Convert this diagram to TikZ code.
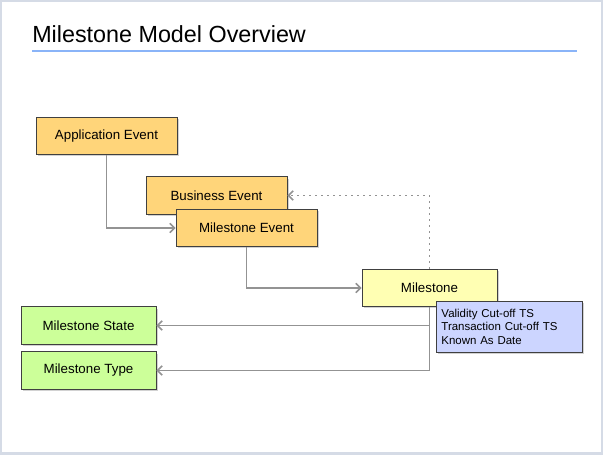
\documentclass[tikz,border=0pt]{standalone}
\usepackage{fontspec}
\setmainfont{Liberation Sans}
\usetikzlibrary{arrows.meta,shadows}

\definecolor{framegray}{HTML}{D5DBE6}
\definecolor{titleblue}{HTML}{8AB4F8}
\definecolor{eventorange}{HTML}{FFD57A}
\definecolor{msyellow}{HTML}{FFFFB3}
\definecolor{refgreen}{HTML}{CCFF99}
\definecolor{attrblue}{HTML}{CCD5FF}
\definecolor{linegray}{HTML}{939393}

\tikzset{
  entity/.style={draw=black!75, line width=0.7pt, minimum height=28pt,
    font=\fontsize{10}{12}\selectfont,
    drop shadow={shadow xshift=1.3pt, shadow yshift=-1.3pt, opacity=0.35}},
  event/.style={entity, fill=eventorange, minimum width=105.75pt},
  ref/.style={entity, fill=refgreen, minimum width=101.25pt},
  conn/.style={draw=linegray, line width=1.2pt, -{Straight Barb[length=3.5pt,width=7pt]}},
}

\begin{document}
\begin{tikzpicture}[x=0.75pt,y=-0.75pt]
  \useasboundingbox (0,0) rectangle (603,455);
  \fill[framegray] (0,0) rectangle (603,455);
  \fill[white] (2,2) rectangle (601,452);

  % title
  \node[anchor=base west, inner sep=0pt, font=\fontsize{17.5}{20}\selectfont] (title) at (32,42) {Milestone Model Overview};
  \draw[titleblue, line width=1.6pt] (32,51) -- (577,51);

  % events
  \node[event] (appevent) at (106.5,136) {Application Event};
  \node[event] (bizevent) at (216.5,195.5) {Business Event};
  \node[event] (msevent) at (246.5,228) {Milestone Event};

  % milestone
  \node[entity, fill=msyellow, minimum width=101.25pt] (milestone) at (429.5,288) {Milestone};
  \node[entity, fill=attrblue, anchor=north west, text width=102pt, minimum height=38pt,
    align=left, inner sep=3.75pt, font=\fontsize{8.6}{10}\selectfont] (attrs) at (436,301)
    {Validity Cut-off TS\\Transaction Cut-off TS\\Known As Date};

  % references
  \node[ref] (msstate) at (88.5,325.5) {Milestone State};
  \node[ref] (mstype) at (88.5,370.5) {Milestone Type};

  % connectors
  \draw[conn] (appevent.south) |- (msevent.west);
  \draw[conn] (msevent.south) |- (milestone.west);
  \draw[conn, dash pattern=on 1.3pt off 3.2pt] (milestone.north) |- (bizevent.east);
  \draw[conn] (milestone.south) |- (msstate.east);
  \draw[conn] (milestone.south) |- (mstype.east);
\end{tikzpicture}
\end{document}
